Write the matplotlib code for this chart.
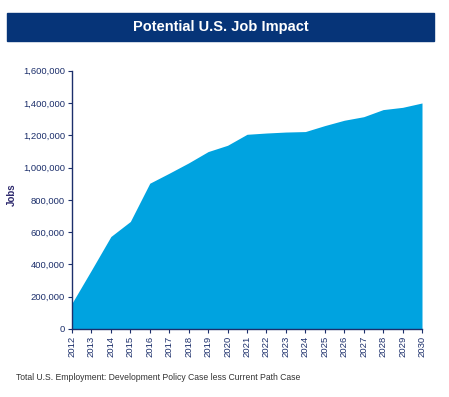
import matplotlib
matplotlib.use("Agg")
import matplotlib.pyplot as plt
from matplotlib.patches import Rectangle
from matplotlib.ticker import FuncFormatter

years = list(range(2012, 2031))
jobs = [160000, 365000, 573000, 666000, 903000, 965000, 1029000, 1099000, 1138000,
        1206000, 1214000, 1220000, 1223000, 1260000, 1293000, 1315000, 1359000,
        1373000, 1400000]
title = "Potential U.S. Job Impact"
ylabel = "Jobs"
footnote = "Total U.S. Employment: Development Policy Case less Current Path Case"

plt.rcParams['font.family'] = ['Liberation Sans', 'DejaVu Sans']
W, H = 449, 397
fig = plt.figure(figsize=(W / 100, H / 100), dpi=100)
navy = "#063478"
axcol = "#1c2f6b"

# title bar
fig.patches.append(Rectangle((7 / W, 1 - 41 / H), (434 - 7) / W, 28 / H,
                             transform=fig.transFigure, color=navy, zorder=0))
fig.text((7 + 434) / 2 / W, 1 - 27 / H, title, ha="center", va="center",
         color="white", fontsize=10.5, fontweight="bold")

ax = fig.add_axes([72 / W, (H - 329) / H, (422 - 72) / W, (329 - 70.7) / H])
ax.fill_between(years, jobs, 0, color="#00a3e0", linewidth=0)
ax.set_xlim(2012, 2030)
ax.set_ylim(0, 1600000)
ax.set_yticks(range(0, 1600001, 200000))
ax.yaxis.set_major_formatter(FuncFormatter(lambda v, p: f"{int(v):,}"))
ax.set_xticks(years)
ax.set_xticklabels([str(y) for y in years], rotation=90)
for s in ["top", "right"]:
    ax.spines[s].set_visible(False)
for s in ["left", "bottom"]:
    ax.spines[s].set_color(axcol)
    ax.spines[s].set_linewidth(1.0)
ax.tick_params(axis="both", colors=axcol, labelsize=6.8, length=3, width=0.8, pad=2)

fig.text(12 / W, 1 - 195 / H, ylabel, rotation=90, ha="center", va="center",
         color="#2e2a6e", fontsize=7, fontweight="bold")

fig.text(16 / W, 1 - 377 / H, footnote, ha="left", va="center", fontsize=6.2,
         color="#333333")

fig.savefig("out.png", dpi=100)
